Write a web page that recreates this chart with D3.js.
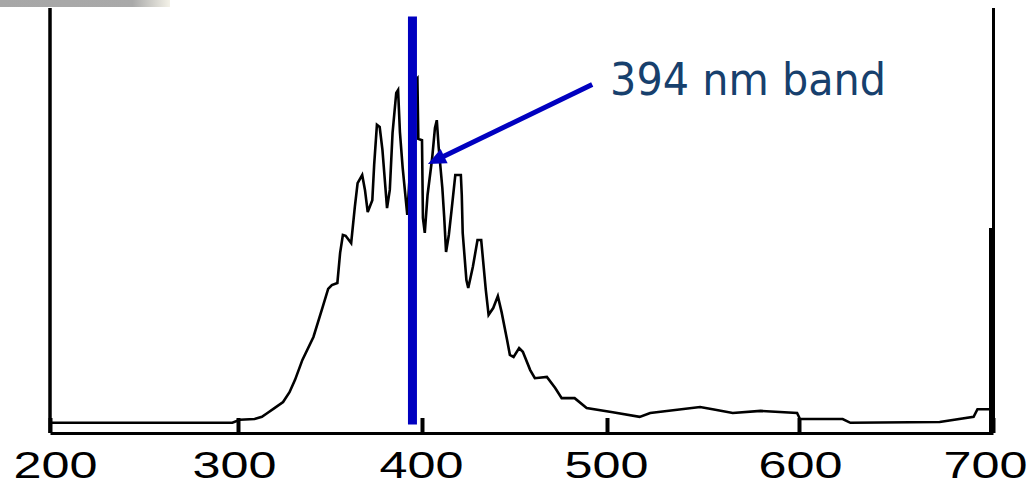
<!DOCTYPE html>
<html>
<head>
<meta charset="utf-8">
<script src="https://cdn.jsdelivr.net/npm/d3@7"></script>
<style>
  html, body { margin: 0; padding: 0; background: #fff; }
  svg { display: block; }
</style>
</head>
<body>
<div id="chart"></div>
<script>
// Espectro (nm, intensidad arbitraria 0-100)
const wavelength = [200, 257, 297, 301, 309, 313, 316, 320, 324.5, 328, 331, 335, 341, 346, 349, 351, 354,
  355.5, 357, 358.5, 361.5, 363.5, 365, 367.5, 369, 370.5, 373, 374, 375.5, 377, 378.5, 381, 382.5, 384,
  386, 387, 388, 389.5, 392, 393.5, 395.5, 397.5, 398, 400, 400.5, 401.5, 403, 405.5, 407, 408, 409, 411,
  412, 413, 414.5, 416, 418, 421, 421.5, 422, 424, 425, 427.5, 430, 432, 433, 434.5, 436, 438.5, 441, 443,
  446, 447.5, 449.5, 452.5, 454.5, 458.5, 461, 467.5, 472, 475.5, 482.5, 489, 503, 517, 522.5, 548.5, 555,
  565.5, 580, 599, 600.5, 622.5, 626.5, 672.5, 690, 692, 700];
const intensity = [2.4, 2.4, 2.4, 3.1, 3.3, 3.8, 4.7, 5.9, 7.3, 9.6, 12.5, 17.2, 22.6, 29.6, 33.9, 34.8, 35.3,
  42.4, 46.6, 46.4, 44.7, 53.2, 58.8, 60.7, 57.2, 52, 54.8, 63.1, 72.5, 72, 66.6, 52.9, 57.2, 70.6,
  80, 80.7, 70.8, 62.4, 51.3, 61.9, 82.6, 83.5, 69.2, 68.9, 50.6, 47.1, 56, 64.7, 71.8, 73.6, 67.3, 57.6,
  50.8, 42.6, 46.6, 52.5, 60.7, 60.7, 56, 47.1, 36, 34.1, 39.1, 45.4, 45.4, 40.7, 33.6, 27.8, 29.4, 32.2, 28.5,
  21.9, 18.4, 17.9, 20, 19.1, 14.8, 12.9, 13.2, 10.6, 8.2, 8.2, 5.9, 4.9, 3.8, 4.7, 6.1, 5.6,
  4.7, 5.2, 4.7, 3.3, 3.3, 2.4, 2.6, 3.8, 5.6, 5.6];

const tickValues = [200, 300, 400, 500, 600, 700];

// Anotación
const bandNm = 394;
const bandRange = [2, 98];
const arrowFrom = [492, 82];
const arrowTo = [403.2, 63.3];
const labelText = "394 nm band";
const labelPos = [501.6, 79.5];

const data = wavelength.map((w, i) => ({ w: w, v: intensity[i] }));

const width = 1032;
const height = 486;

// El escaneo no es perfectamente lineal: escala por tramos
const xScale = d3.scaleLinear()
  .domain(tickValues)
  .range([50, 238, 422, 607, 799, 993]);

const yScale = d3.scaleLinear()
  .domain([0, 100])
  .range([433, 8]);

const svg = d3.select("#chart")
  .append("svg")
  .attr("width", width)
  .attr("height", height);

// Franja gris arriba a la izquierda
const grad = svg.append("defs").append("linearGradient")
  .attr("id", "fade")
  .attr("x1", "0").attr("x2", "1");
grad.append("stop").attr("offset", "0").attr("stop-color", "#a7a7a7");
grad.append("stop").attr("offset", "0.78").attr("stop-color", "#a9a9a9");
grad.append("stop").attr("offset", "1").attr("stop-color", "#f4f2e8");
svg.append("rect")
  .attr("x", 0).attr("y", 0)
  .attr("width", 170).attr("height", 7)
  .attr("fill", "url(#fade)");

// Marco
svg.append("line")
  .attr("x1", 50).attr("x2", 50)
  .attr("y1", yScale(100)).attr("y2", yScale(0))
  .attr("stroke", "#000").attr("stroke-width", 3.5);
svg.append("line")
  .attr("x1", 993.5).attr("x2", 993.5)
  .attr("y1", yScale(100)).attr("y2", yScale(0))
  .attr("stroke", "#000").attr("stroke-width", 3);
svg.append("line")
  .attr("x1", 990.5).attr("x2", 990.5)
  .attr("y1", 228).attr("y2", yScale(0))
  .attr("stroke", "#000").attr("stroke-width", 3);

// Eje X con marcas hacia dentro
const xAxis = svg.append("g")
  .attr("class", "x-axis")
  .attr("transform", `translate(0,${yScale(0)})`)
  .call(d3.axisBottom(xScale)
    .tickValues(tickValues)
    .tickFormat(d3.format("d"))
    .tickSizeInner(-15)
    .tickSizeOuter(0)
    .tickPadding(19));

xAxis.select(".domain")
  .attr("stroke", "#000")
  .attr("stroke-width", 3);
xAxis.selectAll(".tick line")
  .attr("stroke", "#000")
  .attr("stroke-width", 4);

// Etiquetas anchas como en el escaneo
const stretch = 1.36;
const labelShift = { 200: 5, 300: -4, 400: -1, 500: -1, 600: 1, 700: -8 };
xAxis.selectAll(".tick text")
  .attr("fill", "#000")
  .style("font-family", "'Liberation Sans', Arial, sans-serif")
  .style("font-size", "37px")
  .attr("transform", `scale(${stretch},1)`)
  .attr("dx", d => labelShift[d] / stretch);

// Curva del espectro
const line = d3.line()
  .x(d => xScale(d.w))
  .y(d => yScale(d.v));

svg.append("path")
  .datum(data)
  .attr("class", "line")
  .attr("d", line)
  .attr("fill", "none")
  .attr("stroke", "#000")
  .attr("stroke-width", 2.6)
  .attr("stroke-linejoin", "miter");

// Línea azul de la banda
svg.append("line")
  .attr("x1", xScale(bandNm) + 1.5).attr("x2", xScale(bandNm) + 1.5)
  .attr("y1", yScale(bandRange[1])).attr("y2", yScale(bandRange[0]))
  .attr("stroke", "#0000c0")
  .attr("stroke-width", 9);

// Flecha
const x0 = xScale(arrowFrom[0]), y0 = yScale(arrowFrom[1]);
const x1 = xScale(arrowTo[0]), y1 = yScale(arrowTo[1]);
const len = Math.hypot(x1 - x0, y1 - y0);
const ux = (x1 - x0) / len, uy = (y1 - y0) / len;
const headL = 18, headW = 8;
const bx = x1 - ux * headL, by = y1 - uy * headL;

svg.append("line")
  .attr("x1", x0).attr("y1", y0)
  .attr("x2", bx + ux * 2).attr("y2", by + uy * 2)
  .attr("stroke", "#0000c0")
  .attr("stroke-width", 5);

svg.append("path")
  .attr("d", `M${x1},${y1}L${bx - uy * headW},${by + ux * headW}L${bx + uy * headW},${by - ux * headW}Z`)
  .attr("fill", "#0000c0");

// Etiqueta
svg.append("text")
  .attr("x", xScale(labelPos[0]))
  .attr("y", yScale(labelPos[1]))
  .attr("fill", "#17406d")
  .style("font-family", "'DejaVu Sans', sans-serif")
  .style("font-size", "44px")
  .attr("textLength", 276)
  .attr("lengthAdjust", "spacingAndGlyphs")
  .text(labelText);
</script>
</body>
</html>
